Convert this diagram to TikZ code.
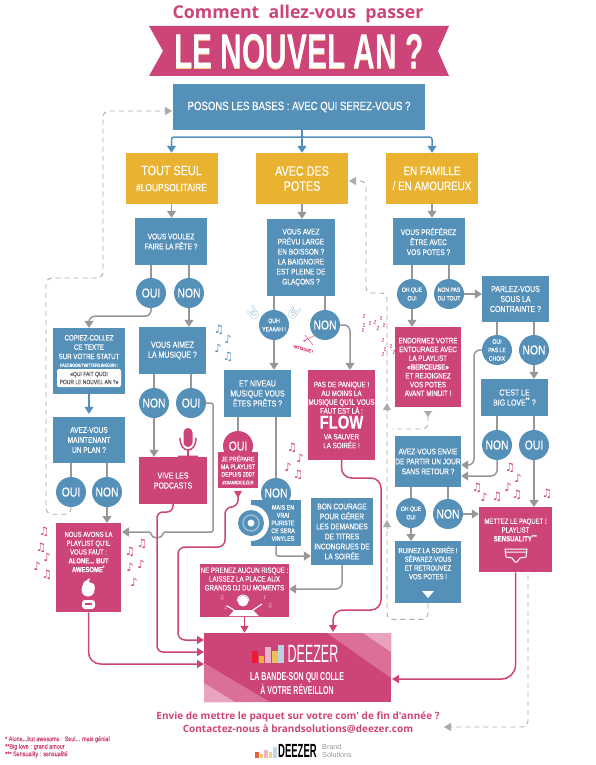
\documentclass[tikz,border=0pt]{standalone}
\usepackage{fontspec}
\usepackage{tikz}
\usetikzlibrary{arrows.meta,calc}
\setmainfont{Liberation Sans}
\newfontfamily\condfont[FakeStretch=0.8,FakeBold=0.35]{Liberation Sans}
\newfontfamily\bannerfont[FakeStretch=0.61]{Liberation Sans}
\newfontfamily\tallfont[FakeStretch=0.5]{Liberation Sans}
\newfontfamily\openfont{Open Sans}
\newfontfamily\notefont{DejaVu Sans}
\newfontfamily\emojifont{Noto Emoji}
\newcommand{\cfont}[2]{\condfont\fontsize{#1}{#2}\selectfont}
\definecolor{dzblue}{HTML}{5590B9}
\definecolor{dzpink}{HTML}{CD4478}
\definecolor{dzyellow}{HTML}{E9B231}
\definecolor{dzgrey}{HTML}{979797}
\definecolor{dzdash}{HTML}{ABABAB}
\definecolor{dzmid}{HTML}{DA6F98}
\definecolor{dzlight}{HTML}{E8A3BF}
\tikzset{
    bluebox/.style={rectangle, fill=dzblue, text=white, align=center, inner sep=0pt, font=\cfont{8.2}{10}},
    pinkbox/.style={bluebox, fill=dzpink},
    yellowbox/.style={bluebox, fill=dzyellow, minimum width=92, minimum height=51, font=\cfont{13.5}{15}},
    blueround/.style={circle, fill=dzblue, text=white, align=center, inner sep=0pt, minimum size=30, font=\cfont{13}{14}},
    smallround/.style={blueround, font=\cfont{6.4}{8.5}},
    greyline/.style={draw=dzgrey, line width=1.5pt, rounded corners=6},
    greyarrow/.style={greyline, -{Triangle[width=9pt,length=7pt]}},
    bluearrow/.style={draw=dzblue, line width=1.5pt, -{Triangle[width=9pt,length=7pt]}},
    pinkarrow/.style={draw=dzpink, line width=1.5pt, rounded corners=10, -{Triangle[width=8pt,length=7pt]}},
    dashline/.style={draw=dzdash, line width=0.9pt, dash pattern=on 5pt off 4pt, rounded corners=6},
    dashtip/.style={-{Triangle[width=8pt,length=7pt]}},
    notemark/.style={font=\notefont\fontsize{11.5}{12}\selectfont, inner sep=0pt},
    zzmark/.style={text=dzpink!80, inner sep=0pt}
}
\begin{document}
\begin{tikzpicture}[x=1pt,y=-1pt]
    \useasboundingbox (0,0) rectangle (595,765);

    % titre
    \node[text=dzpink, inner sep=0pt, font=\openfont\bfseries\fontsize{17.7}{18}\selectfont] (title) at (298,14) {Comment\ \ allez-vous\ \ passer};
    \fill[dzpink] (149,26) -- (449,26) -- (438,51) -- (449,76) -- (149,76) -- (163,51) -- cycle;
    \node[text=dzyellow!55, inner sep=0pt, font=\bannerfont\bfseries\fontsize{49}{50}\selectfont] (bannershade) at (299,52.5) {LE NOUVEL AN ?};
    \node[text=white, inner sep=0pt, font=\bannerfont\bfseries\fontsize{49}{50}\selectfont] (banner) at (299,51.5) {LE NOUVEL AN ?};

    % les bases
    \node[bluebox, minimum width=252, minimum height=46, font=\cfont{12}{13}] (base) at (299,107) {POSONS LES BASES : AVEC QUI SEREZ-VOUS ?};
    \node[yellowbox] (seul) at (171.5,178.5) {TOUT SEUL\\[1pt]{\fontsize{10.5}{12}\selectfont\#LOUPSOLITAIRE}};
    \node[yellowbox] (avec) at (302,178.5) {AVEC DES\\POTES};
    \node[yellowbox, font=\cfont{12.3}{15}] (famille) at (432,178.5) {EN FAMILLE\\/ EN AMOUREUX};
    \draw[bluearrow] (base.south -| avec) -- (avec.north);
    \draw[bluearrow, rounded corners=2] (base.south -| avec) -- ++(0,7) -| (seul.north);
    \draw[bluearrow, rounded corners=2] (base.south -| avec) -- ++(0,7) -| (famille.north);

    % colonne gauche
    \node[bluebox, minimum width=72, minimum height=47] (voulez) at (171,241.5) {VOUS VOULEZ\\FAIRE LA FÊTE ?};
    \node[blueround] (oui1) at (151,293) {OUI};
    \node[blueround] (non1) at (189,293) {NON};
    \node[bluebox, minimum width=72, minimum height=66] (copiez) at (89,361) {};
    \node[text=white, align=center, inner sep=0pt, font=\cfont{7.7}{9.3}] (copieztxt) at (89,351) {COPIEZ-COLLEZ\\CE TEXTE\\SUR VOTRE STATUT\\[-1.5pt]{\fontsize{4.6}{6}\selectfont FACEBOOK/TWITTER/LINKEDIN :}};
    \node[fill=white, rounded corners=1.5, minimum width=64, minimum height=18, inner sep=0pt, align=center, text=dzgrey!60!black, font=\cfont{6.2}{8}] (quoi) at (89,378) {«QUI FAIT QUOI\\POUR LE NOUVEL AN ?»};
    \node[bluebox, minimum width=72, minimum height=46] (plan) at (89,440) {AVEZ-VOUS\\MAINTENANT\\UN PLAN ?};
    \node[blueround] (oui3) at (71,492) {OUI};
    \node[blueround] (non3) at (107,492) {NON};
    \node[bluebox, minimum width=67, minimum height=47, font=\cfont{8.7}{10}] (aimez) at (172.5,350.5) {VOUS AIMEZ\\LA MUSIQUE ?};
    \node[blueround] (non2) at (154,403) {NON};
    \node[blueround] (oui2) at (191,403) {OUI};
    \node[pinkbox, minimum width=68, minimum height=47, font=\cfont{8.7}{10}] (vive) at (173,480.5) {VIVE LES\\PODCASTS};
    \node[pinkbox, minimum width=65, minimum height=89, anchor=north] (nous) at (88.5,523) {};
    \node[text=white, align=center, inner sep=0pt, font=\cfont{7.4}{8.8}] (noustxt) at (88.5,552) {NOUS AVONS LA\\PLAYLIST QU'IL\\VOUS FAUT :\\\textbf{ALONE... BUT}\\\textbf{AWESOME}\textsuperscript{*}};

    \draw[greyarrow] (seul.south) -- (seul.south |- voulez.north);
    \draw[greyline] (voulez.south -| oui1) -- (oui1.north);
    \draw[greyline] (voulez.south -| non1) -- (non1.north);
    \draw[greyarrow] (oui1.south) -- ++(0,8) -| (copiez.north);
    \draw[greyarrow] (non1.south) -- (non1.south |- aimez.north);
    \draw[bluearrow] (copiez.south) -- ($(plan.north)+(0,-3)$);
    \draw[greyline] (plan.south -| oui3) -- (oui3.north);
    \draw[greyline] (plan.south -| non3) -- (non3.north);
    \draw[greyarrow] (non3.south) -- (non3.south |- nous.north);
    \draw[greyline] (aimez.south -| non2) -- (non2.north);
    \draw[greyline] (aimez.south -| oui2) -- (oui2.north);
    \draw[greyarrow] (non2.south) -- (non2.south |- vive.north);
    \coordinate (nousin) at (122,532);
    \draw[greyarrow, rounded corners=2] (oui2.east) -| (213,532) -- (163,532) .. controls (163,539) and (151,539) .. (151,532) -- (nousin);

    % micro
    \fill[dzpink, rounded corners=4.5] (183.5,428) rectangle (192.5,447);
    \draw[dzpink, line width=1.5pt] (180,438) .. controls (180,454) and (196,454) .. (196,438);
    \fill[dzpink] (187,449) rectangle (189,456) (178,455.5) rectangle (198,457);

    % petit personnage
    \fill[white] (88,590) circle (6.5);
    \fill[white] (82,587) -- (84,582) -- (90,578) -- (89,582) -- (94,584) -- (95,589) -- cycle;
    \fill[white, rounded corners=3] (82,609) -- (82,600) -- (95,600) -- (95,609) -- cycle;
    \fill[dzpink] (85,603) -- (92,603) -- (92,605) -- (85,605) -- cycle;

    % colonne du milieu
    \node[bluebox, minimum width=68, minimum height=77] (prevu) at (301,257.5) {VOUS AVEZ\\PRÉVU LARGE\\EN BOISSON ?\\LA BAIGNOIRE\\EST PLEINE DE\\GLAÇONS ?};
    \node[smallround] (ouh) at (274,325) {OUH\\YEAAAH !};
    \node[blueround] (non4) at (325,325) {NON};
    \node[bluebox, minimum width=67, minimum height=47, font=\cfont{8.7}{10}] (niveau) at (257.5,393.5) {ET NIVEAU\\MUSIQUE VOUS\\ÊTES PRÊTS ?};
    \node[pinkbox, minimum width=67, minimum height=90, font=\cfont{7.8}{8.8}] (flow) at (341.5,415) {PAS DE PANIQUE !\\AU MOINS LA\\MUSIQUE QU'IL VOUS\\FAUT EST LÀ :\\[1pt]{\bfseries\fontsize{18.5}{18}\selectfont FLOW}\\[2pt]VA SAUVER\\LA SOIRÉE !};
    \node[pinkbox, circle, minimum size=30, font=\cfont{13}{14}] (oui4) at (238,446) {OUI};
    \node[pinkbox, minimum width=40, minimum height=36, font=\cfont{6.7}{7.6}] (prepare) at (238,470) {JE PRÉPARE\\MA PLAYLIST\\DEPUIS 2007\\{\fontsize{5}{7}\selectfont\#10ANSDEEZER}};
    \node[bluebox, minimum width=50, minimum height=46] (vrai) at (276,523) {};
    \node[blueround] (non5) at (276,493) {NON};
    \fill[white] (251,523) circle (18);
    \fill[dzblue] (251,523) circle (13);
    \draw[dzblue!60, line width=1.5pt] (251,523) circle (8);
    \fill[white] (251,523) circle (3.5);
    \node[text=white, align=center, inner sep=0pt, font=\cfont{6.7}{7.8}] (vraitxt) at (283,523) {MAIS EN\\VRAI\\PURISTE\\CE SERA\\VINYLES};
    \node[bluebox, minimum width=62, minimum height=67] (courage) at (342,531.5) {BON COURAGE\\POUR GÉRER\\LES DEMANDES\\DE TITRES\\INCONGRUES DE\\LA SOIRÉE};
    \node[pinkbox, minimum width=89, minimum height=53, anchor=north] (risque) at (244.5,563.5) {};
    \node[text=white, align=center, inner sep=0pt, font=\cfont{7.7}{8.8}] (risquetxt) at (244.5,579) {NE PRENEZ AUCUN RISQUE :\\LAISSEZ LA PLACE AUX\\GRANDS DJ DU MOMENTS};

    \draw[greyarrow] (avec.south) -- (avec.south |- prevu.north);
    \draw[greyline] (prevu.south -| ouh) -- (ouh.north);
    \draw[greyline] (prevu.south -| non4) -- (non4.north);
    \draw[greyarrow] (ouh.south) -- (ouh.south |- niveau.north);
    \draw[greyarrow] (non4.east) -| (flow.north -| 350,0);
    \draw[greyline] (niveau.south -| oui4) -- (oui4.north);
    \draw[greyline] (niveau.south -| non5) -- (non5.north);
    \draw[greyarrow, rounded corners=2] (vrai.south -| non5) |- (courage.west |- 0,556);
    \draw[greyarrow] (courage.south) |- (risque.east |- 0,589);

    % mains, griffonnage et dormeur
    \node[text=dzblue!50, inner sep=0pt, rotate=35, font=\emojifont\fontsize{13}{13}\selectfont] (handleft) at (253,313) {🤘};
    \node[text=dzblue!50, inner sep=0pt, rotate=-35, font=\emojifont\fontsize{13}{13}\selectfont] (handright) at (294,313) {🤘};
    \draw[dzpink!80, line width=0.6pt] (303,341) -- (316,335) (305,335) -- (313,345) (308,338) -- (304,342);
    \node[text=dzpink, rotate=-15, inner sep=0pt, font=\cfont{4.5}{5}] (attache) at (303,349) {YATTACHE !};
    \foreach \zx/\zy/\zs [count=\zi] in {364/316/5,370/323/4.5,363/330/4.5,375/322/5,381/318/4.5,378/328/6,364/325/4.5,384/325/4.5,383/340/5,391/346/4.5,385/349/4.5,383/354/5,394/352/5}
        \node[zzmark, font=\cfont{\zs}{7}] (zz\zi) at (\zx,\zy) {Z};

    % colonne droite
    \node[bluebox, minimum width=72, minimum height=47] (preferez) at (428.5,241.5) {VOUS PRÉFÉREZ\\ÊTRE AVEC\\VOS POTES ?};
    \node[smallround] (ohque1) at (412,294) {OH QUE\\OUI};
    \node[smallround] (nonpas) at (449,294) {NON PAS\\DU TOUT};
    \node[pinkbox, minimum width=66, minimum height=80, font=\cfont{7.8}{8.8}] (endormez) at (428,367) {ENDORMEZ VOTRE\\ENTOURAGE AVEC\\LA PLAYLIST\\\textbf{«BERCEUSE»}\\ET REJOIGNEZ\\VOS POTES\\AVANT MINUIT !};
    \node[bluebox, minimum width=67, minimum height=46, font=\cfont{8.7}{10}] (parlez) at (515.5,299) {PARLEZ-VOUS\\SOUS LA\\CONTRAINTE ?};
    \node[smallround] (oblige) at (497,350) {OUI\\PAS LE\\CHOIX};
    \node[blueround] (non6) at (534,350) {NON};
    \node[bluebox, minimum width=67, minimum height=37, font=\cfont{8.7}{10}] (bigl) at (514.5,397.5) {C'EST LE\\BIG LOVE\textsuperscript{**} ?};
    \node[blueround] (non7) at (497,445) {NON};
    \node[blueround] (oui7) at (534,445) {OUI};
    \node[bluebox, minimum width=66, minimum height=51] (envie) at (428,461.5) {AVEZ-VOUS ENVIE\\DE PARTIR UN JOUR\\SANS RETOUR ?};
    \node[smallround] (ohque2) at (411,513) {OH QUE\\OUI};
    \node[blueround] (non8) at (448,514) {NON};
    \node[bluebox, minimum width=66, minimum height=62, anchor=north] (ruinez) at (428,541) {};
    \node[text=white, align=center, inner sep=0pt, font=\cfont{7.5}{8.7}] (ruineztxt) at (428,563) {RUINEZ LA SOIRÉE !\\SÉPAREZ-VOUS\\ET RETROUVEZ\\VOS POTES !};
    \fill[white] (422,591) -- (434,591) -- (428,598) -- cycle;
    \node[pinkbox, minimum width=73, minimum height=65, anchor=north] (mettre) at (515.5,507) {};
    \node[text=white, align=center, inner sep=0pt, font=\cfont{7.5}{8.8}] (mettretxt) at (515.5,530) {METTEZ LE PAQUET !\\PLAYLIST\\\textbf{SENSUALITY}\textsuperscript{***}};

    % le slip
    \draw[white, line width=1pt, line join=round] (505,549) -- (527,549) -- (526,557) -- (520,558) -- (517,562) -- (515,562) -- (512,558) -- (506,557) -- cycle (505,552) -- (527,552);

    \draw[greyarrow] (famille.south) -- (famille.south |- preferez.north);
    \draw[greyline] (preferez.south -| ohque1) -- (ohque1.north);
    \draw[greyline] (preferez.south -| nonpas) -- (nonpas.north);
    \draw[greyarrow] (ohque1.south) -- (ohque1.south |- endormez.north);
    \draw[greyarrow] (nonpas.east) -- (parlez.west |- nonpas);
    \draw[greyline] (parlez.south -| oblige) -- (oblige.north);
    \draw[greyline] (parlez.south -| non6) -- (non6.north);
    \draw[greyarrow] (non6.south) -- (non6.south |- bigl.north);
    \draw[greyline] (bigl.south -| non7) -- (non7.north);
    \draw[greyline] (bigl.south -| oui7) -- (oui7.north);
    \draw[greyarrow] (oui7.south) -- (oui7.south |- mettre.north);
    \draw[greyarrow] (oblige.west) -- (474,350) |- (envie.east |- 0,465);
    \draw[greyarrow] (non7.south) |- (envie.east |- 0,476);
    \draw[greyline] (envie.south -| ohque2) -- (ohque2.north);
    \draw[greyline] (envie.south -| non8) -- (non8.north);
    \draw[greyarrow] (ohque2.south) -- (ohque2.south |- ruinez.north);
    \draw[greyarrow] (non8.east) -- (mettre.west |- non8);

    % pointilles de retour
    \coordinate (basein) at (172,111);
    \coordinate (avecin) at (349,181);
    \coordinate (endorout) at (428,411);
    \coordinate (mettreout) at (528,575);
    \coordinate (backhome) at (444,727);
    \draw[dashline, dashtip] (oui3.south) -- ++(0,7) -| (46,278) -| (103,111) -- (basein);
    \draw[dashline, dashtip] (ruinez.south) -- ++(0,16) -| (387,293) -| (366,181) -- (avecin);
    \draw[dashline, {Triangle[reversed,width=8pt,length=6pt]}-] (endorout) |- (392,429);
    \draw[dashline, dashtip] (mettreout) |- (backhome);
    \coordinate (zhigh) at (387,403);
    \coordinate (zlow) at (387,520);
    \draw[dashline, dashtip, solid] (387,412) -- (zhigh);
    \draw[dashline, dashtip, solid] (387,529) -- (zlow);

    % la boite deezer
    \node[pinkbox, minimum width=187, minimum height=69] (deezer) at (297.5,667.5) {};
    \fill[dzmid] (327,633) -- (391,633) -- (391,678) -- cycle;
    \fill[dzlight] (363,633) -- (391,633) -- (391,652) -- cycle;
    \fill[dzmid] (204,663) -- (270,702) -- (204,702) -- cycle;
    \fill[dzlight] (204,683) -- (235,702) -- (204,702) -- cycle;
    \foreach \bi/\bh/\bc in {0/12/dzpink!40!red,1/7/dzyellow,2/16/dzpink!40!white,3/12/dzyellow!80!white,4/18/dzblue!40!white}
        \fill[\bc] ({252+6.6*\bi},663) rectangle ++(5.8,-\bh);
    \node[text=white, inner sep=0pt, font=\tallfont\fontsize{25}{26}\selectfont] (deezerlogo) at (313,654) {DEEZER};
    \node[text=white, align=center, inner sep=0pt, font=\bannerfont\bfseries\fontsize{11.5}{13.5}\selectfont] (slogan) at (297,683.5) {LA BANDE-SON QUI COLLE\\À VOTRE RÉVEILLON};

    % fleches vers deezer
    \coordinate (dzin1) at (204,640);
    \coordinate (dzin2) at (204,652);
    \coordinate (dzin3) at (204,664);
    \coordinate (dzin4) at (333,632);
    \coordinate (dzin5) at (392,679);
    \draw[pinkarrow, rounded corners=6] (vive.south) |- (157,512) |- (dzin2);
    \draw[pinkarrow, rounded corners=12] (nous.south) |- (dzin3);
    \draw[pinkarrow, rounded corners=7] (238,497) |- (225,507) |- (178,547) |- (dzin1);
    \fill[dzpink] (234,491) -- (242,491) -- (238,498) -- cycle;
    \draw[pinkarrow] (flow.south) |- (381,478) |- (333,610) -- (dzin4);
    \draw[pinkarrow, rounded corners=14] (mettre.south) |- (dzin5);
    \draw[pinkarrow] (risque.south) -- (risque.south |- deezer.north);

    % dj
    \fill[white] (243,601) circle (5.5);
    \draw[white, line width=0.8pt] (237,601) arc[start angle=180,end angle=360,radius=6];
    \fill[white] (229,616) -- (234,610) -- (253,610) -- (259,616) -- cycle;
    \draw[white, line width=1.2pt] (234,610) -- (227,606) (253,610) -- (262,604);

    % notes
    \foreach \nx/\ny/\nn [count=\ni] in {219/330/♫,228/339/♪,218/348/♪,228/357/♫}
        \node[notemark, text=dzblue] (bluenote\ni) at (\nx,\ny) {\nn};
    \foreach \nx/\ny/\nn [count=\ni] in {44/532/♫,41/548/♫,47/557/♪,37/566/♪,47/575/♫,142/544/♫,130/552/♫,141/564/♪,130/567/♪,134/582/♪,292/448/♫,300/458/♪,288/467/♪,298/475/♫,510/468/♫,518/478/♪,477/488/♫,484/497/♪,497/497/♫,508/487/♪,517/495/♫,547/494/♫}
        \node[notemark, text=dzpink] (pinknote\ni) at (\nx,\ny) {\nn};
    \foreach \nx/\ny/\nn [count=\ni] in {222/598/♫,226/608/♪,265/598/♪,270/606/♫}
        \node[notemark, text=white, font=\notefont\fontsize{5}{5}\selectfont] (djnote\ni) at (\nx,\ny) {\nn};

    % bas de page
    \node[text=dzpink, align=center, inner sep=0pt, font=\openfont\bfseries\fontsize{10}{13}\selectfont] (contact) at (298,722.5) {Envie de mettre le paquet sur votre com' de fin d'année ?\\Contactez-nous à brandsolutions@deezer.com};
    \node[text=dzpink, anchor=north west, align=left, inner sep=0pt, font=\cfont{6.8}{7.5}] (footnotes) at (5,736) {* Alone...but awesome : Seul... mais génial\\**Big love : grand amour\\*** Sensuality : sensualité};
    \foreach \bi/\bh/\bc in {0/6/dzpink!50!orange,1/4/dzyellow!70!white,2/8/dzpink!40!white,3/6/dzyellow!60!white,4/11/dzblue!35!white}
        \fill[\bc] ({255+4.5*\bi},758) rectangle ++(3.8,-\bh);
    \node[text=black, inner sep=0pt, font=\tallfont\bfseries\fontsize{19}{20}\selectfont, anchor=west] (footlogo) at (278,751) {DEEZER};
    \node[text=dzgrey, anchor=west, align=left, inner sep=0pt, font=\fontsize{7.2}{8}\selectfont] (footbrand) at (322,751) {Brand\\Solutions};
\end{tikzpicture}
\end{document}
